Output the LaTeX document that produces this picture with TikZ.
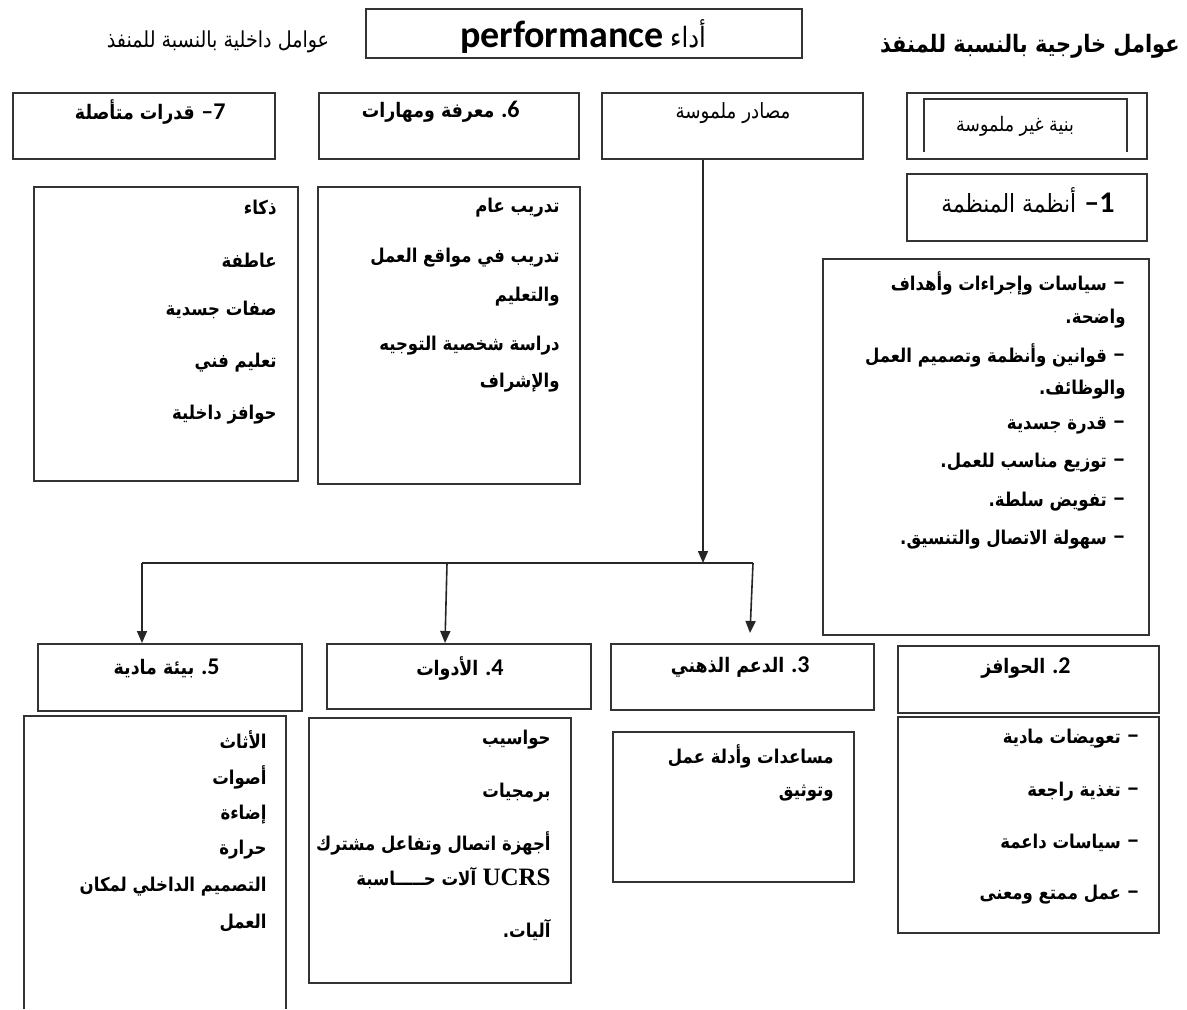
\documentclass[tikz,border=0pt]{standalone}
\usepackage{fontspec}
\usetikzlibrary{arrows.meta,calc}
\TeXXeTstate=1
\newfontfamily\arabicfont[Script=Arabic, FakeStretch=0.87]{DejaVu Sans}
\newfontfamily\numfont{Carlito}
\newfontfamily\serifnum{Liberation Serif}
% Arabic runs, regular and bold, set right to left
\newcommand\artxt[1]{{\arabicfont\beginR #1\endR}}
\newcommand\artxtb[1]{{\arabicfont\bfseries\beginR #1\endR}}
% list dash
\newcommand\dsh{{\numfont\bfseries\fontsize{13}{14}\selectfont –}\ }
% empty framed box from its top-left to its bottom-right corner (pixel units)
\newcommand\boxat[5]{\node[frame, anchor=north west,
  minimum width={(#4-#2)*0.5pt}, minimum height={(#5-#3)*0.5pt}] (#1) at (#2,#3) {};}

\begin{document}
\begin{tikzpicture}[x=0.5pt,y=-0.5pt,
  frame/.style={draw=black!80, line width=1pt, rectangle, inner sep=0pt},
  arr/.style={draw=black!85, line width=0.8pt, -{Triangle[width=5pt,length=6pt]}},
  bus/.style={draw=black!85, line width=0.8pt},
  lst/.style={anchor=east, inner sep=0pt, font=\fontsize{9.5}{12}\selectfont},
  hdr/.style={anchor=east, inner sep=0pt, font=\fontsize{10}{12}\selectfont},
  plain/.style={inner sep=0pt}]
\useasboundingbox (0,0) rectangle (1187,1009);
\fill[white] (0,0) rectangle (1187,1009);

% ---- top line: title and the two group captions
\boxat{title}{365}{8}{801}{57}
\node[plain] (titletxt) at (583,36) {{\fontsize{19}{22}\selectfont\numfont\bfseries performance}\ {\fontsize{14}{16}\selectfont\artxt{أداء}}};
\node[plain, font=\fontsize{11}{13}\selectfont] (inner) at (218,42) {\artxt{عوامل داخلية بالنسبة للمنفذ}};
\node[plain, anchor=east, font=\fontsize{12}{14}\selectfont] (outer) at (1180,46) {\artxtb{عوامل خارجية بالنسبة للمنفذ}};

% ---- upper row of boxes
\boxat{b7h}{12}{92}{274}{158}
\boxat{b6h}{318}{92}{578}{158}
\boxat{src}{601}{92}{862}{158}
\boxat{intg}{906}{92}{1146}{158}
\draw[line width=1pt, draw=black!80] (924,152) -- (924,99) -- (1127,99) -- (1127,152);
\boxat{b1h}{906}{173}{1146}{240}

\node[hdr] (b7ht) at (226,112) {\artxtb{قدرات متأصلة} {\numfont\bfseries\fontsize{12}{14}\selectfont –7}};
\node[hdr] (b6ht) at (520,112) {\artxtb{معرفة ومهارات} {\numfont\bfseries\fontsize{12}{14}\selectfont .6}};
\node[plain, font=\fontsize{10.5}{12}\selectfont] (srct) at (733,113) {\artxt{مصادر ملموسة}};
\node[plain, font=\fontsize{10}{12}\selectfont] (intgt) at (1015,126) {\artxt{بنية غير ملموسة}};
\node[hdr, font=\fontsize{12.5}{14}\selectfont] (b1ht) at (1115,200) {\artxt{أنظمة المنظمة} {\numfont\bfseries\fontsize{15}{18}\selectfont –1}};

% ---- lists under the upper row
\boxat{b7l}{33}{186}{297}{480}
\node[lst] (l7a) at (277,208) {\artxtb{ذكاء}};
\node[lst] (l7b) at (277,260) {\artxtb{عاطفة}};
\node[lst] (l7c) at (277,310) {\artxtb{صفات جسدية}};
\node[lst] (l7d) at (277,363) {\artxtb{تعليم فني}};
\node[lst] (l7e) at (277,415) {\artxtb{حوافز داخلية}};

\boxat{b6l}{317}{186}{579}{483}
\node[lst] (l6a) at (560,208) {\artxtb{تدريب عام}};
\node[lst] (l6b) at (560,258) {\artxtb{تدريب في مواقع العمل}};
\node[lst] (l6c) at (560,297) {\artxtb{والتعليم}};
\node[lst] (l6d) at (560,346) {\artxtb{دراسة شخصية التوجيه}};
\node[lst] (l6e) at (560,383) {\artxtb{والإشراف}};

\boxat{b1l}{822}{258}{1148}{634}
\node[lst] (l1a) at (1126,283) {\artxtb{\dsh سياسات وإجراءات وأهداف}};
\node[lst] (l1b) at (1126,319) {\artxtb{واضحة.}};
\node[lst] (l1c) at (1126,355) {\artxtb{\dsh قوانين وأنظمة وتصميم العمل}};
\node[lst] (l1d) at (1126,390) {\artxtb{والوظائف.}};
\node[lst] (l1e) at (1126,426) {\artxtb{\dsh قدرة جسدية}};
\node[lst] (l1f) at (1126,463) {\artxtb{\dsh توزيع مناسب للعمل.}};
\node[lst] (l1g) at (1126,502) {\artxtb{\dsh تفويض سلطة.}};
\node[lst] (l1h) at (1126,540) {\artxtb{\dsh سهولة الاتصال والتنسيق.}};

% ---- lower row of boxes
\boxat{b5h}{37}{643}{301}{710}
\boxat{b4h}{326}{643}{590}{708}
\boxat{b3h}{610}{643}{873}{709}
\boxat{b2h}{897}{645}{1158}{712}
\node[hdr] (b5ht) at (220,668) {\artxtb{بيئة مادية} {\numfont\bfseries\fontsize{12}{14}\selectfont .5}};
\node[hdr] (b4ht) at (504,668) {\artxtb{الأدوات} {\numfont\bfseries\fontsize{12}{14}\selectfont .4}};
\node[hdr] (b3ht) at (810,667) {\artxtb{الدعم الذهني} {\numfont\bfseries\fontsize{12}{14}\selectfont .3}};
\node[hdr] (b2ht) at (1071,668) {\artxtb{الحوافز} {\numfont\bfseries\fontsize{12}{14}\selectfont .2}};

% ---- lists under the lower row
\draw[line width=1pt, draw=black!80] (24,1009) |- (286,716) -- (286,1009);
\node[lst] (l5a) at (267,740) {\artxtb{الأثاث}};
\node[lst] (l5b) at (267,777) {\artxtb{أصوات}};
\node[lst] (l5c) at (267,815) {\artxtb{إضاءة}};
\node[lst] (l5d) at (267,850) {\artxtb{حرارة}};
\node[lst] (l5e) at (267,887) {\artxtb{التصميم الداخلي لمكان}};
\node[lst] (l5f) at (267,923) {\artxtb{العمل}};

\boxat{b4l}{308}{717}{570}{982}
\node[lst] (l4a) at (551,740) {\artxtb{حواسيب}};
\node[lst] (l4b) at (551,793) {\artxtb{برمجيات}};
\node[lst] (l4c) at (551,843) {\artxtb{أجهزة اتصال وتفاعل مشترك}};
\node[lst] (l4d) at (551,878) {\artxtb{آلات حـــــاسبة} {\serifnum\bfseries\fontsize{12.5}{14}\selectfont UCRS}};
\node[lst] (l4e) at (551,930) {\artxtb{آليات.}};

\boxat{b3l}{612}{731}{853}{881}
\node[lst] (l3a) at (834,756) {\artxtb{مساعدات وأدلة عمل}};
\node[lst] (l3b) at (834,793) {\artxtb{وتوثيق}};

\boxat{b2l}{897}{716}{1158}{932}
\node[lst] (l2a) at (1140,739) {\artxtb{\dsh تعويضات مادية}};
\node[lst] (l2b) at (1140,792) {\artxtb{\dsh تغذية راجعة}};
\node[lst] (l2c) at (1140,843) {\artxtb{\dsh سياسات داعمة}};
\node[lst] (l2d) at (1140,895) {\artxtb{\dsh عمل ممتع ومعنى}};

% ---- connectors from the tangible resources down to boxes 3, 4, 5
\coordinate (busS) at (703,563);
\coordinate (busL) at (142,563);
\coordinate (busM) at (447,563);
\coordinate (busR) at (753,563);
\draw[arr] (src.south -| busS) -- (busS);
\draw[bus] (busL) -- (busR);
\draw[arr] (busL) -- (busL |- b5h.north);
\draw[arr] (busM) -- ([xshift=-7pt]b4h.north);
\draw[arr] (busR) -- ([xshift=3.75pt,yshift=5pt]b3h.north);
\end{tikzpicture}
\end{document}
